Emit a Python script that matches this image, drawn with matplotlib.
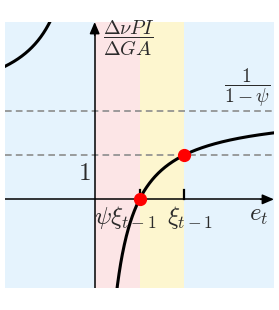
import numpy as np
import matplotlib
matplotlib.use("Agg")
import matplotlib.pyplot as plt

plt.rcParams['mathtext.fontset'] = 'cm'

# model values
psi = 0.5
xi = 1.0
xlim = (-1.0, 2.0)
ylim = (-2.0, 4.0)
asymptote = 1 / (1 - psi)

# highlighted points: (psi*xi, 0) and (xi, 1)
point_x = [psi * xi, xi]
point_y = [0.0, 1.0]


def ratio(e):
    return (e - psi * xi) / ((1 - psi) * e)


fig = plt.figure(figsize=(2.79, 3.10), dpi=100)
ax = fig.add_axes([5 / 279, 22 / 310, 269 / 279, 266 / 310])
ax.set_xlim(*xlim)
ax.set_ylim(*ylim)
ax.set_facecolor('#e5f3fd')
for s in ax.spines.values():
    s.set_visible(False)
ax.set_xticks([])
ax.set_yticks([])

# shaded bands
ax.axvspan(0, psi * xi, color='#fce5e6', lw=0, zorder=0)
ax.axvspan(psi * xi, xi, color='#fdf6cf', lw=0, zorder=0)

# dashed reference lines
for yv in [1.0, asymptote]:
    ax.axhline(yv, color='#8c8c8c', lw=1.2, ls=(0, (4, 2.5)), zorder=1)

# axes with arrows
ax.plot([0, 0], [ylim[0], ylim[1] - 0.2], color='black', lw=1.1, zorder=2)
ax.plot([xlim[0], xlim[1] - 0.1], [0, 0], color='black', lw=1.1, zorder=2)
ax.annotate('', xy=(0, ylim[1]), xytext=(0, ylim[1] - 0.3),
            arrowprops=dict(arrowstyle='-|>,head_length=0.7,head_width=0.3',
                            color='black', lw=1.1, shrinkA=0, shrinkB=0),
            annotation_clip=False, zorder=3)
ax.annotate('', xy=(xlim[1], 0), xytext=(xlim[1] - 0.15, 0),
            arrowprops=dict(arrowstyle='-|>,head_length=0.7,head_width=0.3',
                            color='black', lw=1.1, shrinkA=0, shrinkB=0),
            annotation_clip=False, zorder=3)

# small ticks
for xv in point_x:
    ax.plot([xv, xv], [0, 0.2], color='black', lw=1.6, zorder=2)

# curve branches
e_left = np.linspace(xlim[0], -0.3, 300)
e_right = np.linspace(0.2, xlim[1], 400)
ax.plot(e_left, ratio(e_left), color='black', lw=2.2, zorder=4)
ax.plot(e_right, ratio(e_right), color='black', lw=2.2, zorder=4)

ax.plot(point_x, point_y, 'o', color='red', ms=8.5, zorder=5)

# labels
tc = '#2b2b2b'
ax.text(0.345, -0.42, r'$\psi\xi_{t-1}$', fontsize=18, color=tc, ha='center', va='center')
ax.text(1.07, -0.42, r'$\xi_{t-1}$', fontsize=18, color=tc, ha='center', va='center')
ax.text(1.83, -0.36, r'$e_t$', fontsize=18, color=tc, ha='center', va='center')
ax.text(-0.11, 0.6, r'$1$', fontsize=18, color=tc, ha='center', va='center')
ax.text(0.38, 3.62, r'$\dfrac{\Delta\nu PI}{\Delta GA}$', fontsize=14.5, color=tc,
        ha='center', va='center')
ax.text(1.7, 2.52, r'$\dfrac{1}{1-\psi}$', fontsize=14, color=tc,
        ha='center', va='center')

fig.savefig('out.png', dpi=100)
